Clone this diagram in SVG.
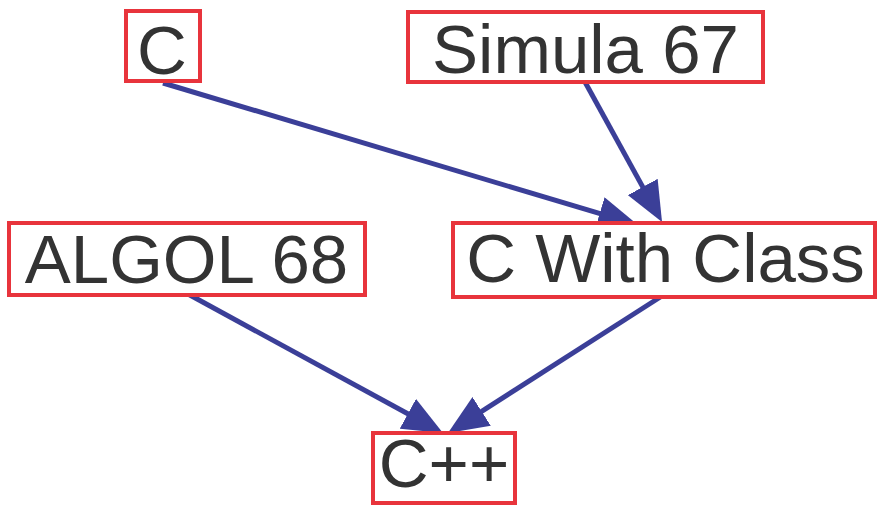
<svg xmlns="http://www.w3.org/2000/svg" width="877" height="505" viewBox="0 0 877 505">
<style>
.box{fill:#ffffff;stroke:#e8343c;stroke-width:4}
.lbl{font-family:"Liberation Sans",Arial,sans-serif;font-size:69px;fill:#333333;text-anchor:middle}
.edge{stroke:#3b3f98;stroke-width:5;fill:none}
</style>
<defs>
<marker id="arr" markerUnits="userSpaceOnUse" viewBox="0 0 40 34" markerWidth="40" markerHeight="34" refX="25" refY="17" orient="auto">
<path d="M0,0 L40,17 L0,34 z" fill="#3b3f98"/>
</marker>
</defs>
<rect width="877" height="505" fill="#ffffff"/>
<g id="connectors">
<line class="edge" x1="163" y1="83" x2="623.6" y2="220.7" marker-end="url(#arr)"/>
<line class="edge" x1="585" y1="82" x2="654.8" y2="208.9" marker-end="url(#arr)"/>
<line class="edge" x1="188" y1="294" x2="429.8" y2="425.8" marker-end="url(#arr)"/>
<line class="edge" x1="665" y1="294" x2="460.6" y2="424.9" marker-end="url(#arr)"/>
</g>
<g id="node-c">
<rect class="box" x="126" y="11" width="74" height="70"/>
<text class="lbl" x="162" y="74">C</text>
</g>
<g id="node-simula">
<rect class="box" x="408" y="12" width="355" height="70"/>
<text class="lbl" x="585.5" y="73">Simula 67</text>
</g>
<g id="node-algol">
<rect class="box" x="9" y="223" width="356" height="72"/>
<text class="lbl" x="186.5" y="283">ALGOL 68</text>
</g>
<g id="node-cwc">
<rect class="box" x="453" y="223" width="422" height="74"/>
<text class="lbl" x="665.5" y="282">C With Class</text>
</g>
<g id="node-cpp">
<rect class="box" x="373" y="433" width="142" height="70"/>
<text class="lbl" x="444" y="487">C++</text>
</g>
</svg>
